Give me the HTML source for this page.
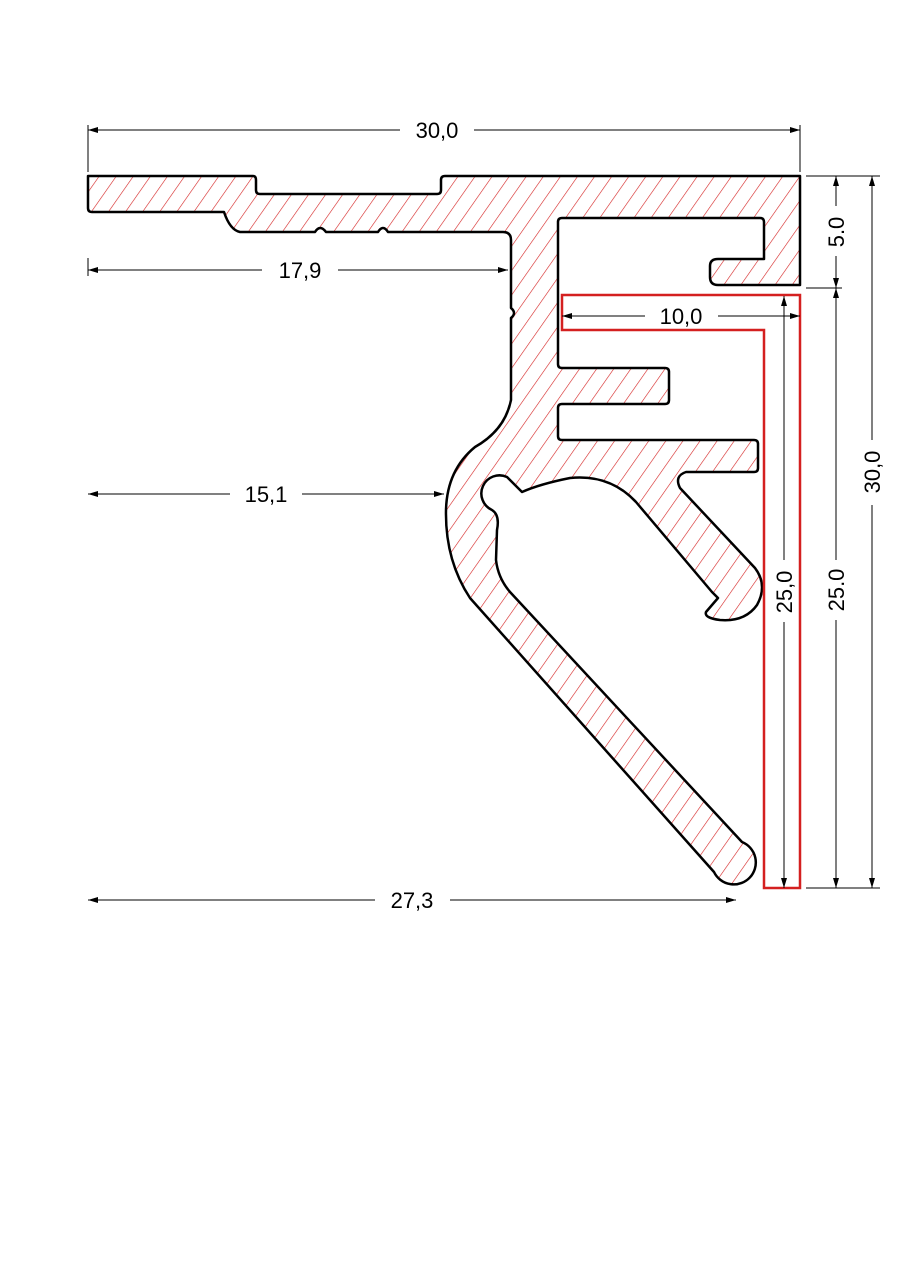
<!DOCTYPE html>
<html><head><meta charset="utf-8"><style>
html,body{margin:0;padding:0;background:#fff;}
svg{display:block;}
text{font-family:"Liberation Sans",sans-serif;font-size:22px;fill:#000;}
</style></head><body>
<svg width="904" height="1280" viewBox="0 0 904 1280" xmlns="http://www.w3.org/2000/svg">
<defs>
<pattern id="h" width="14" height="14" patternUnits="userSpaceOnUse" patternTransform="rotate(35)">
<line x1="0" y1="0" x2="0" y2="14" stroke="#d42020" stroke-width="1.2"/>
</pattern>
<marker id="a" viewBox="0 0 10 6" refX="10" refY="3" markerWidth="10" markerHeight="6" orient="auto-start-reverse" markerUnits="userSpaceOnUse">
<path d="M0,0 L10,3 L0,6 Z" fill="#000"/>
</marker>
</defs>
<path fill="url(#h)" stroke="#000" stroke-width="2.5" stroke-linejoin="round" d="
M88,176 L253,176 Q256,176 256,180 L256,190 Q256,194 260,194 L437,194 Q441,194 441,190 L441,180 Q441,176 445,176 L800,176 L800,285 L718,285 Q710,285 710,277 L710,266 Q710,259 718,259 L764,259 L764,222 Q764,218 760,218 L562,218 Q558,218 558,222 L558,364 Q558,368 562,368 L665,368 Q669,368 669,372 L669,400 Q669,404 665,404 L562,404 Q558,404 558,408 L558,436 Q558,440 562,440 L754,440 Q758,440 758,444 L758,468 Q758,472 754,472 L686,472 Q674,476 680,488 L755,568 Q768,585 757,605 Q745,622 720,620 Q704,618 706,612 L718,598 L712,592 L636,502 Q610,474 570,478 Q540,484 522,492 Q512,482 507,477 A16,16 0 1 0 492,510 Q500,515 497,530 L496,560 Q498,578 510,592 L742,842 A22,22 0 1 1 714,872 L470,598 Q445,560 446,510 Q447,470 475,447 Q505,430 511,400 L511,318 Q517,313 511,308 L511,240 Q511,232 503,232 L388,232 Q383,224 378,232 L326,232 Q320,224 315,232 L240,232 Q230,230 224,212 L92,212 Q88,212 88,208 Z"/>
<path fill="none" stroke="#d42020" stroke-width="2.5" d="M562,295 L800,295 L800,888 L764,888 L764,330 L562,330 Z"/>
<g stroke="#000" stroke-width="1" fill="none">
<line x1="88" y1="125" x2="88" y2="172"/><line x1="800" y1="125" x2="800" y2="172"/>
<line x1="88" y1="130" x2="400" y2="130" marker-start="url(#a)"/><line x1="474" y1="130" x2="800" y2="130" marker-end="url(#a)"/>
<line x1="88" y1="258" x2="88" y2="276"/>
<line x1="88" y1="270" x2="262" y2="270" marker-start="url(#a)"/><line x1="338" y1="270" x2="508" y2="270" marker-end="url(#a)"/>
<line x1="562" y1="316" x2="645" y2="316" marker-start="url(#a)"/><line x1="718" y1="316" x2="800" y2="316" marker-end="url(#a)"/>
<line x1="88" y1="494" x2="230" y2="494" marker-start="url(#a)"/><line x1="302" y1="494" x2="444" y2="494" marker-end="url(#a)"/>
<line x1="88" y1="900" x2="375" y2="900" marker-start="url(#a)"/><line x1="450" y1="900" x2="736" y2="900" marker-end="url(#a)"/>
<line x1="806" y1="176" x2="880" y2="176"/><line x1="806" y1="288" x2="842" y2="288"/><line x1="806" y1="888" x2="880" y2="888"/>
<line x1="836" y1="176" x2="836" y2="206" marker-start="url(#a)"/><line x1="836" y1="256" x2="836" y2="288" marker-end="url(#a)"/>
<line x1="836" y1="288" x2="836" y2="560" marker-start="url(#a)"/><line x1="836" y1="620" x2="836" y2="888" marker-end="url(#a)"/>
<line x1="872" y1="176" x2="872" y2="440" marker-start="url(#a)"/><line x1="872" y1="505" x2="872" y2="888" marker-end="url(#a)"/>
<line x1="784" y1="296" x2="784" y2="560" marker-start="url(#a)"/><line x1="784" y1="622" x2="784" y2="888" marker-end="url(#a)"/>
</g>
<text x="437" y="138" text-anchor="middle">30,0</text>
<text x="300" y="278" text-anchor="middle">17,9</text>
<text x="681" y="324" text-anchor="middle">10,0</text>
<text x="266" y="502" text-anchor="middle">15,1</text>
<text x="412" y="908" text-anchor="middle">27,3</text>
<text transform="translate(844,232) rotate(-90)" text-anchor="middle">5.0</text>
<text transform="translate(844,590) rotate(-90)" text-anchor="middle">25.0</text>
<text transform="translate(880,472) rotate(-90)" text-anchor="middle">30,0</text>
<text transform="translate(792,592) rotate(-90)" text-anchor="middle">25,0</text>
</svg>
</body></html>
